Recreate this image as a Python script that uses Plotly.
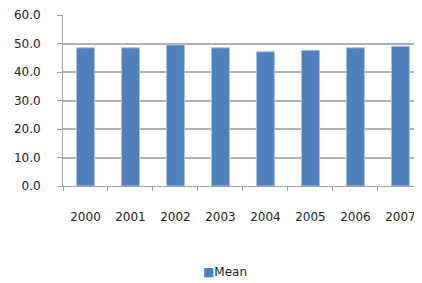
import plotly.graph_objects as go

years = ["2000", "2001", "2002", "2003", "2004", "2005", "2006", "2007"]
mean_values = [48.5, 48.5, 49.5, 48.5, 47.1, 47.6, 48.5, 49.0]
y_ticks = [0, 10, 20, 30, 40, 50, 60]
series_name = "Mean"

fig = go.Figure()
fig.add_trace(go.Bar(
    x=years, y=mean_values, name=series_name,
    marker=dict(color="#4F81BD", line=dict(color="#A9C1E0", width=1)),
    width=0.4, showlegend=False,
))

# page body has an 8px default margin, so the figure is sized to fit inside it
fig.update_layout(
    width=414, height=275,
    margin=dict(l=55, r=0, t=7, b=97, autoexpand=False),
    paper_bgcolor="white", plot_bgcolor="white",
    font=dict(family="DejaVu Sans", size=12, color="#222222"),
    showlegend=False,
)
fig.add_annotation(
    xref="paper", yref="paper", x=0.451, y=-0.503, xanchor="center", yanchor="middle",
    text="<span style='color:#4F81BD'>■</span>" + series_name,
    showarrow=False, font=dict(size=12, color="#222222"),
)
fig.update_xaxes(
    type="category", range=[-0.5, 7.48], automargin=False,
    showline=True, linecolor="#A0A0A0", linewidth=1,
    ticks="outside", tickson="boundaries", ticklen=4, tickcolor="#A0A0A0",
    ticklabelstandoff=20, showgrid=False,
)
fig.update_yaxes(
    range=[0, 60], tickvals=y_ticks, tickformat=".1f", automargin=False,
    showgrid=True, gridcolor="#B0B0B0", gridwidth=1.5,
    showline=True, linecolor="#A0A0A0", linewidth=1,
    ticks="outside", ticklen=5, tickcolor="#A0A0A0",
    ticklabelstandoff=14, zeroline=False,
)

fig.write_html("out.html")
